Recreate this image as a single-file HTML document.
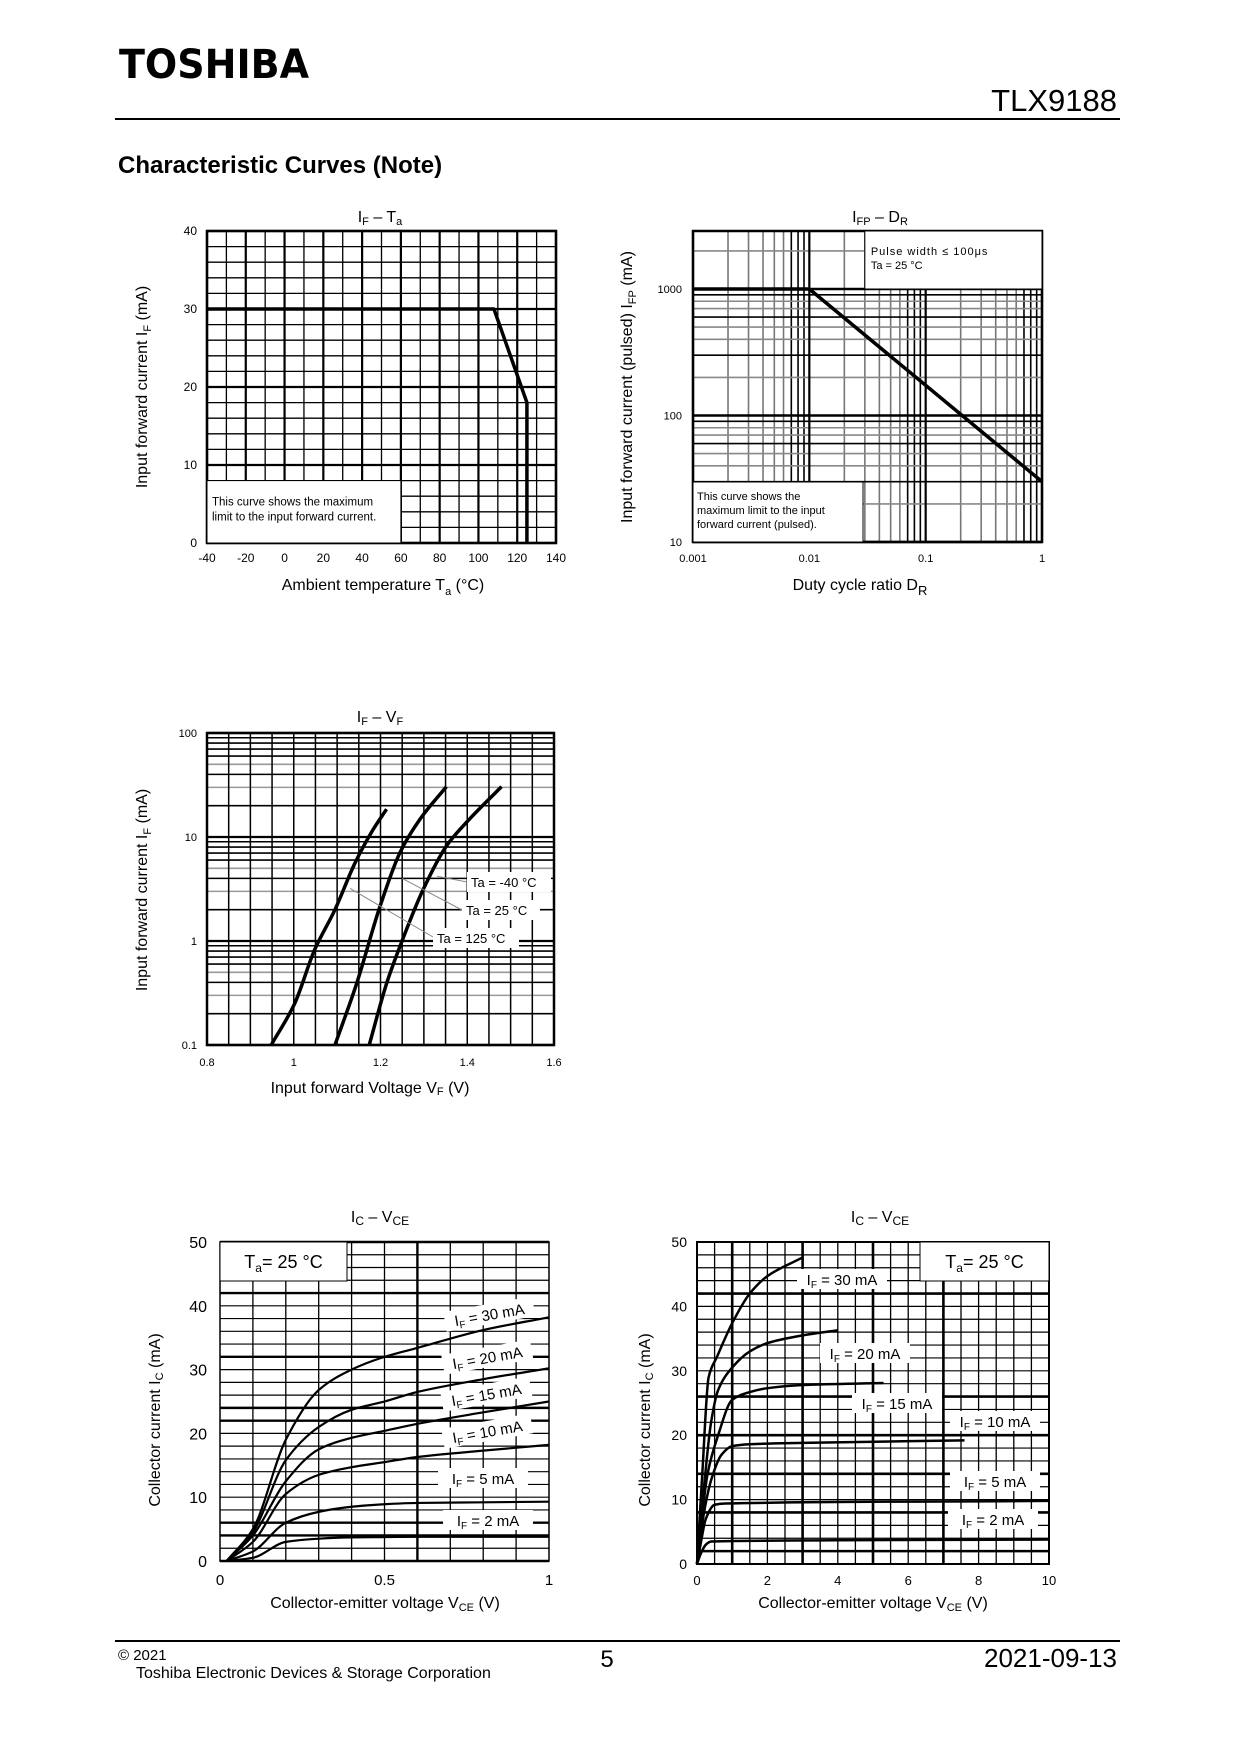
<!DOCTYPE html>
<html><head><meta charset="utf-8"><style>
body{margin:0;background:#fff}
svg{display:block;font-family:"Liberation Sans",sans-serif}
</style></head><body>
<svg id="s" width="1240" height="1754" viewBox="0 0 1240 1754" xmlns="http://www.w3.org/2000/svg">
<text x="119" y="78" font-size="40" font-weight="bold" font-family="'DejaVu Sans','Liberation Sans',sans-serif" textLength="190" lengthAdjust="spacingAndGlyphs">TOSHIBA</text>
<text x="1117" y="111" font-size="31" text-anchor="end">TLX9188</text>
<line x1="115" y1="119" x2="1120" y2="119" stroke="#000" stroke-width="2"/>
<text x="118" y="173" font-size="24" font-weight="bold">Characteristic Curves (Note)</text>
<line x1="115" y1="1641" x2="1120" y2="1641" stroke="#000" stroke-width="2"/>
<text x="118" y="1660" font-size="15">© 2021</text>
<text x="136" y="1678" font-size="16">Toshiba Electronic Devices &amp; Storage Corporation</text>
<text x="607" y="1667" font-size="24" text-anchor="middle">5</text>
<text x="1117" y="1667" font-size="26" text-anchor="end">2021-09-13</text>
<g id="c1"></g>
<g id="c2"></g>
<g id="c3"></g>
<g id="c4"></g>
<g id="c5"></g>
</svg>
<script>
// Chart 1: IF - Ta
const c1TaTicks=[-40,-20,0,20,40,60,80,100,120,140];
const c1IfTicks=[0,10,20,30,40];
const c1Ta=[-40,108,125,125];
const c1If=[30,30,18,0];
// Chart 2: IFP - DR
const c2DrTicks=[0.001,0.01,0.1,1];
const c2DrLabels=["0.001","0.01","0.1","1"];
const c2IfpTicks=[10,100,1000];
const c2Dr=[0.001,0.01,1];
const c2Ifp=[1000,1000,30];
// Chart 3: IF - VF
const c3VfTicks=[0.8,1,1.2,1.4,1.6];
const c3IfTicks=[0.1,1,10,100];
const c3Vf125=[0.948,1.002,1.048,1.095,1.141,1.183,1.214];
const c3If125=[0.1,0.25,0.82,2.0,5.6,11.8,18.5];
const c3Vf25=[1.095,1.145,1.199,1.245,1.291,1.352];
const c3If25=[0.1,0.39,2.16,7.1,14.8,30.5];
const c3VfM40=[1.174,1.214,1.248,1.298,1.352,1.398,1.479];
const c3IfM40=[0.1,0.39,0.96,3.1,8.2,13.8,30.5];
// Chart 4: IC - VCE (0..1 V)
const c4VceTicks=[0,0.5,1];
const c4IcTicks=[0,10,20,30,40,50];
const c4Vce=[0.02,0.1,0.2,0.3,0.4,0.5,0.6,0.8,1];
const c4Ic30=[0,5,19,26.8,30,32,33.4,36.2,38.2];
const c4Ic20=[0,4.5,15.8,21,23.7,25,26.5,28.5,30.2];
const c4Ic15=[0,4,12.5,17.5,19.3,20.4,21.5,23.3,25];
const c4Ic10=[0,3,10.5,13.5,14.7,15.5,16.3,17.3,18.2];
const c4Ic5=[0,1.5,6,7.7,8.5,8.9,9.1,9.2,9.3];
const c4Ic2=[0,0.5,3,3.5,3.7,3.75,3.8,3.8,3.8];
// Chart 5: IC - VCE (0..10 V)
const c5VceTicks=[0,2,4,6,8,10];
const c5IcTicks=[0,10,20,30,40,50];
const c5Vce30=[0,0.15,0.33,0.57,1,1.5,2,3];
const c5Ic30=[0,14,29,32.2,37.4,42,44.7,47.6];
const c5Vce20=[0,0.2,0.4,0.6,1,1.5,2,3,4];
const c5Ic20=[0,12,22,27,30.5,33,34.3,35.5,36.3];
const c5Vce15=[0,0.3,0.6,1,1.5,2,3,5.3];
const c5Ic15=[0,14,20,25.5,26.7,27.3,27.8,28.1];
const c5Vce10=[0,0.2,0.4,0.7,1,1.5,3,7.6];
const c5Ic10=[0,8,13,17,18.3,18.6,18.8,19.2];
const c5Vce5=[0,0.1,0.25,0.5,0.8,10];
const c5Ic5=[0,3,7,9.2,9.4,9.8];
const c5Vce2=[0,0.1,0.25,0.4,10];
const c5Ic2=[0,1.5,3,3.5,3.8];

const NS="http://www.w3.org/2000/svg";
function mk(p,tag,at,txt){const e=document.createElementNS(NS,tag);for(const k in at)e.setAttribute(k,at[k]);if(txt!==undefined)e.textContent=txt;p.appendChild(e);return e;}
function lin(d0,d1,p0,p1){return v=>p0+(v-d0)/(d1-d0)*(p1-p0);}
function lg(d0,d1,p0,p1){return v=>p0+(Math.log10(v)-Math.log10(d0))/(Math.log10(d1)-Math.log10(d0))*(p1-p0);}
function smooth(pts){const n=pts.length;const dx=[],s=[];for(let i=0;i<n-1;i++){dx.push(pts[i+1][0]-pts[i][0]);s.push((pts[i+1][1]-pts[i][1])/dx[i]);}
const m=[s[0]];for(let i=1;i<n-1;i++){if(s[i-1]*s[i]<=0)m.push(0);else{const w1=2*dx[i]+dx[i-1],w2=dx[i]+2*dx[i-1];m.push((w1+w2)/(w1/s[i-1]+w2/s[i]));}}m.push(s[n-2]);
let d="M"+pts[0][0]+","+pts[0][1];for(let i=0;i<n-1;i++){const h=dx[i]/3;d+=" C"+(pts[i][0]+h)+","+(pts[i][1]+m[i]*h)+" "+(pts[i+1][0]-h)+","+(pts[i+1][1]-m[i+1]*h)+" "+pts[i+1][0]+","+pts[i+1][1];}return d;}
function curve(g,xs,ys,X,Y,w,name,sm){const pts=xs.map((x,i)=>[X(x),Y(ys[i])]);const d=sm?smooth(pts):"M"+pts.map(p=>p.join(",")).join(" L");const e=mk(g,"path",{d:d,fill:"none",stroke:"#000","stroke-width":w,"stroke-linejoin":"round"});


return e;}
function gl(g,x1,y1,x2,y2,c,w){const e=mk(g,"line",{x1:x1,y1:y1,x2:x2,y2:y2,stroke:c,"stroke-width":w});

}
function txt(g,x,y,s,fs,anc,name,extra){const e=mk(g,"text",Object.assign({x:x,y:y,"font-size":fs,"text-anchor":anc||"middle"},extra||{}),s);

return e;}
function box(g,x,y,w,h,name){const e=mk(g,"rect",{x:x,y:y,width:w,height:h,fill:"#fff",stroke:"#000","stroke-width":1});

}

// ---------- Chart 1 ----------
(function(){const g=document.getElementById("c1");const L=207,R=556,T=231,B=543;
const X=lin(-40,140,L,R),Y=lin(0,40,B,T);
for(let v=-40;v<=140;v+=10)gl(g,X(v),T,X(v),B,"#000",v%20===0?2.2:1.3);
for(let v=0;v<=40;v+=2)gl(g,L,Y(v),R,Y(v),"#000",v%10===0?2.2:1.3);
mk(g,"rect",{x:L,y:T,width:R-L,height:B-T,fill:"none",stroke:"#000","stroke-width":2.5});
box(g,X(-40),Y(8),X(60)-X(-40),Y(0)-Y(8),"note-box");
txt(g,X(-40)+5,Y(8)+25,"This curve shows the maximum",11.5,"start","note-text");
txt(g,X(-40)+5,Y(8)+40,"limit to the input forward current.",11.5,"start","note-text");
curve(g,c1Ta,c1If,X,Y,3.5,"if-limit-line",false);
c1TaTicks.forEach(v=>txt(g,X(v),562,String(v),12,"middle","x-tick-label"));
c1IfTicks.forEach(v=>txt(g,197,Y(v)+4,String(v),12,"end","y-tick-label"));
const ti=txt(g,380,222,"",16,"middle","chart-title");mk(ti,"tspan",{},"I");mk(ti,"tspan",{"font-size":11,dy:3},"F");mk(ti,"tspan",{dy:-3}," – T");mk(ti,"tspan",{"font-size":11,dy:3},"a");
const xt=txt(g,383,590,"",16,"middle","x-axis-title");mk(xt,"tspan",{},"Ambient temperature  T");mk(xt,"tspan",{"font-size":11,dy:5},"a");mk(xt,"tspan",{dy:-5},"  (°C)");
const yt=txt(g,0,0,"",16,"middle","y-axis-title",{transform:"translate(147,387) rotate(-90)"});mk(yt,"tspan",{},"Input forward current  I");mk(yt,"tspan",{"font-size":11,dy:4},"F");mk(yt,"tspan",{dy:-4},"  (mA)");
})();

// ---------- Chart 2 ----------
(function(){const g=document.getElementById("c2");const L=693,R=1042,T=231,B=542;
const X=lg(0.001,1,L,R),Y=lg(10,1000,B,289);
for(let d=0.001;d<1;d*=10)for(let k=2;k<=9;k++)gl(g,X(d*k),T,X(d*k),B,k>=7?"#000":"#777",1.6);
for(let d=10;d<3000;d*=10)for(let k=2;k<=9;k++){const v=d*k;if(Y(v)>T)gl(g,L,Y(v),R,Y(v),k%3===0?"#000":"#888",1.6);}
c2DrTicks.forEach(v=>gl(g,X(v),T,X(v),B,"#000",2.2));
c2IfpTicks.forEach(v=>gl(g,L,Y(v),R,Y(v),"#000",2.5));
mk(g,"rect",{x:L,y:T,width:R-L,height:B-T,fill:"none",stroke:"#000","stroke-width":2.5});
box(g,X(0.03),T,R-X(0.03),Y(1000)-T,"condition-box");
txt(g,X(0.03)+6,T+24,"Pulse width ≤ 100μs",11,"start","condition-text",{"letter-spacing":"1"});
txt(g,X(0.03)+6,T+38,"Ta = 25 °C",11,"start","condition-text");
box(g,L,482,863-L,B-482,"note-box");
txt(g,L+4,500,"This curve shows the",11,"start","note-text");
txt(g,L+4,514,"maximum limit to the input",11,"start","note-text");
txt(g,L+4,528,"forward current (pulsed).",11,"start","note-text");
curve(g,c2Dr,c2Ifp,X,Y,3.5,"ifp-limit-line",false);
c2DrTicks.forEach((v,i)=>txt(g,X(v),562,c2DrLabels[i],11,"middle","x-tick-label"));
c2IfpTicks.forEach(v=>txt(g,682,Y(v)+4,String(v),11,"end","y-tick-label"));
const ti=txt(g,880,222,"",16,"middle","chart-title");mk(ti,"tspan",{},"I");mk(ti,"tspan",{"font-size":11,dy:3},"FP");mk(ti,"tspan",{dy:-3}," – D");mk(ti,"tspan",{"font-size":11,dy:3},"R");
const xt=txt(g,860,590,"",16,"middle","x-axis-title");mk(xt,"tspan",{},"Duty cycle ratio  D");mk(xt,"tspan",{"font-size":13,dy:5},"R");
const yt=txt(g,0,0,"",16,"middle","y-axis-title",{transform:"translate(632,387) rotate(-90)"});mk(yt,"tspan",{},"Input forward current (pulsed) I");mk(yt,"tspan",{"font-size":11,dy:4},"FP");mk(yt,"tspan",{dy:-4},"  (mA)");
})();

// ---------- Chart 3 ----------
(function(){const g=document.getElementById("c3");const L=207,R=554,T=733,B=1045;
const X=lin(0.8,1.6,L,R),Y=lg(0.1,100,B,T);
for(let d=0.1;d<100;d*=10)for(let k=2;k<=9;k++)gl(g,L,Y(d*k),R,Y(d*k),k>=6||k===2||k===4?"#000":"#999",1.6);
for(let i=0;i<=16;i++)gl(g,X(0.8+i*0.05),T,X(0.8+i*0.05),B,"#000",1.5);
c3IfTicks.forEach(v=>gl(g,L,Y(v),R,Y(v),"#000",2.2));
mk(g,"rect",{x:L,y:T,width:R-L,height:B-T,fill:"none",stroke:"#000","stroke-width":2.5});
curve(g,c3Vf125,c3If125,X,Y,3.5,"curve-ta-125",true);
curve(g,c3Vf25,c3If25,X,Y,3.5,"curve-ta-25",true);
curve(g,c3VfM40,c3IfM40,X,Y,3.5,"curve-ta-minus40",true);
[[467,882,X(1.33),Y(4.2)],[462,910,X(1.25),Y(4)],[433,937,X(1.13),Y(3.2)]].forEach(a=>{const e=mk(g,"line",{x1:a[0],y1:a[1],x2:a[2],y2:a[3],stroke:"#888","stroke-width":1});

});
[[467,872,84,"Ta = -40 °C"],[462,900,78,"Ta = 25 °C"],[433,928,86,"Ta = 125 °C"]].forEach(a=>{const r=mk(g,"rect",{x:a[0],y:a[1],width:a[2],height:20,fill:"#fff"});


txt(g,a[0]+4,a[1]+15,a[3],13,"start","curve-label");});
c3VfTicks.forEach(v=>txt(g,X(v),1066,String(v),11,"middle","x-tick-label"));
c3IfTicks.forEach(v=>txt(g,197,Y(v)+4,String(v),11,"end","y-tick-label"));
const ti=txt(g,380,722,"",16,"middle","chart-title");mk(ti,"tspan",{},"I");mk(ti,"tspan",{"font-size":11,dy:3},"F");mk(ti,"tspan",{dy:-3}," – V");mk(ti,"tspan",{"font-size":11,dy:3},"F");
const xt=txt(g,370,1093,"",16,"middle","x-axis-title");mk(xt,"tspan",{},"Input forward Voltage V");mk(xt,"tspan",{"font-size":11,dy:2},"F");mk(xt,"tspan",{dy:-2}," (V)");
const yt=txt(g,0,0,"",16,"middle","y-axis-title",{transform:"translate(147,890) rotate(-90)"});mk(yt,"tspan",{},"Input forward current  I");mk(yt,"tspan",{"font-size":11,dy:4},"F");mk(yt,"tspan",{dy:-4},"  (mA)");
})();

function icTitle(g,cx,name){const ti=txt(g,cx,1222,"",16,"middle",name);mk(ti,"tspan",{},"I");mk(ti,"tspan",{"font-size":12,dy:3},"C");mk(ti,"tspan",{dy:-3}," – V");mk(ti,"tspan",{"font-size":12,dy:3},"CE");}
function icAxes(g,cx,ylx){const xt=txt(g,cx,1608,"",16,"middle","x-axis-title");mk(xt,"tspan",{},"Collector-emitter voltage V");mk(xt,"tspan",{"font-size":11,dy:3},"CE");mk(xt,"tspan",{dy:-3}," (V)");
const yt=txt(g,0,0,"",16,"middle","y-axis-title",{transform:"translate("+ylx+",1420) rotate(-90)"});mk(yt,"tspan",{},"Collector current I");mk(yt,"tspan",{"font-size":11,dy:3},"C");mk(yt,"tspan",{dy:-3}," (mA)");}
function ifLabel(g,x,y,val,rot){const gg=mk(g,"g",{transform:"translate("+x+","+y+") rotate("+rot+")"});


mk(gg,"rect",{x:-45,y:-14,width:90,height:20,fill:"#fff"});const t=mk(gg,"text",{x:0,y:2,"font-size":15,"text-anchor":"middle"});mk(t,"tspan",{},"I");mk(t,"tspan",{"font-size":10,dy:3},"F");mk(t,"tspan",{dy:-3}," = "+val+" mA");}
function taBox(g,x,y,w,h,name){box(g,x,y,w,h,name);const t=txt(g,x+w/2,y+26,"",18,"middle","ta-label");mk(t,"tspan",{},"T");mk(t,"tspan",{"font-size":12,dy:4},"a");mk(t,"tspan",{dy:-4},"= 25 °C");}

// ---------- Chart 4 ----------
(function(){const g=document.getElementById("c4");const L=220,R=549,T=1242,B=1561;
const X=lin(0,1,L,R),Y=lin(0,50,B,T);
for(let i=1;i<10;i++)gl(g,X(i/10),T,X(i/10),B,"#000",i===6?2.4:1.3);
for(let v=2;v<50;v+=2)gl(g,L,Y(v),R,Y(v),"#000",[42,32,24,22,6,4].includes(v)?2.4:1.2);
mk(g,"rect",{x:L,y:T,width:R-L,height:B-T,fill:"none",stroke:"#000","stroke-width":1.5});
gl(g,L,T,R,T,"#000",2.5);gl(g,L,B,R,B,"#000",2.5);
taBox(g,L,T,347-L,1281-T,"ta-box");
[c4Ic30,c4Ic20,c4Ic15,c4Ic10,c4Ic5,c4Ic2].forEach((s,i)=>curve(g,c4Vce,s,X,Y,2.2,"curve-if-"+[30,20,15,10,5,2][i],true));
ifLabel(g,490,1318,"30",-10);ifLabel(g,488,1361,"20",-10);ifLabel(g,487,1398,"15",-10);ifLabel(g,488,1435,"10",-10);
ifLabel(g,483,1482,"5",0);ifLabel(g,488,1524,"2",0);
c4VceTicks.forEach(v=>txt(g,X(v),1585,String(v),15,"middle","x-tick-label"));
c4IcTicks.forEach(v=>txt(g,207,Y(v)+6,String(v),16,"end","y-tick-label"));
icTitle(g,380,"chart-title");icAxes(g,385,160);
})();

// ---------- Chart 5 ----------
(function(){const g=document.getElementById("c5");const L=697,R=1049,T=1242,B=1564;
const X=lin(0,10,L,R),Y=lin(0,50,B,T);
for(let i=1;i<20;i++)gl(g,X(i/2),T,X(i/2),B,"#000",[2,6,10,14].includes(i)?2.6:1.3);
for(let v=2;v<50;v+=2)gl(g,L,Y(v),R,Y(v),"#000",[42,26,20,14,8,2].includes(v)?2.6:1.2);
mk(g,"rect",{x:L,y:T,width:R-L,height:B-T,fill:"none",stroke:"#000","stroke-width":2});
taBox(g,920,T,R-920,1281-T,"ta-box");
curve(g,c5Vce30,c5Ic30,X,Y,2.5,"curve-if-30",true);
curve(g,c5Vce20,c5Ic20,X,Y,2.5,"curve-if-20",true);
curve(g,c5Vce15,c5Ic15,X,Y,2.5,"curve-if-15",true);
curve(g,c5Vce10,c5Ic10,X,Y,2.5,"curve-if-10",true);
curve(g,c5Vce5,c5Ic5,X,Y,2.5,"curve-if-5",true);
curve(g,c5Vce2,c5Ic2,X,Y,2.5,"curve-if-2",true);
ifLabel(g,842,1283,"30",0);ifLabel(g,865,1357,"20",0);ifLabel(g,897,1407,"15",0);ifLabel(g,995,1425,"10",0);ifLabel(g,995,1485,"5",0);ifLabel(g,993,1523,"2",0);
c5VceTicks.forEach(v=>txt(g,X(v),1585,String(v),13,"middle","x-tick-label"));
c5IcTicks.forEach(v=>txt(g,687,Y(v)+5,String(v),14,"end","y-tick-label"));
icTitle(g,880,"chart-title");icAxes(g,873,650);
})();
</script>
</body></html>
